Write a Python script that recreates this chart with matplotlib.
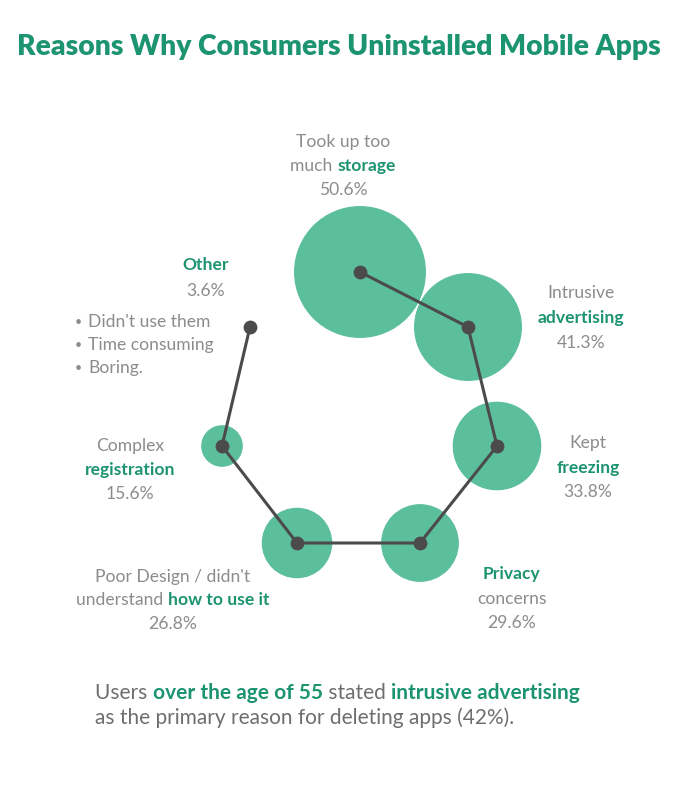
import matplotlib
matplotlib.use("Agg")
import matplotlib.pyplot as plt
from matplotlib.patches import Circle

# data
reasons = ["Took up too much storage", "Intrusive advertising", "Kept freezing",
           "Privacy concerns", "Poor Design / didn't understand how to use it",
           "Complex registration", "Other"]
shares = [50.6, 41.3, 33.8, 29.6, 26.8, 15.6, 3.6]
other_items = ["Didn't use them", "Time consuming", "Boring."]

# layout (pixel space of the 675x800 canvas)
centers = [(360, 272), (468, 327), (497, 446), (420, 543), (297, 543), (222, 446), (250, 327)]
px_per_pct = 1.29

GREEN = "#1d9470"
FILL = "#5cbf9c"
GRAY = "#8c8c8c"
DARKGRAY = "#6e6e6e"
LINE = "#4b4b4b"
FONT = "Lato"

fig = plt.figure(figsize=(6.75, 8), dpi=100)
ax = fig.add_axes([0, 0, 1, 1])
ax.set_xlim(0, 675)
ax.set_ylim(800, 0)
ax.axis("off")
renderer = fig.canvas.get_renderer()


def rich_line(x, y, parts, size=12.6, ha="center", gray=GRAY):
    """draw a line made of (text, bold) pieces, bold pieces in green"""
    texts = []
    for s, bold in parts:
        t = ax.text(0, y, s, fontsize=size, family=FONT, va="center", ha="left",
                    fontweight="bold" if bold else "normal",
                    color=GREEN if bold else gray)
        texts.append(t)
    widths = [t.get_window_extent(renderer).width for t in texts]
    total = sum(widths)
    start = x - total / 2 if ha == "center" else x
    for t, w in zip(texts, widths):
        t.set_x(start)
        start += w


# circles (last one, "Other", is only a dot)
for (cx, cy), v in zip(centers[:-1], shares[:-1]):
    ax.add_patch(Circle((cx, cy), v * px_per_pct, color=FILL, zorder=1))

xs = [c[0] for c in centers]
ys = [c[1] for c in centers]
ax.plot(xs, ys, color=LINE, lw=2.2, zorder=2)
ax.scatter(xs, ys, s=80, color=LINE, zorder=3)

ax.text(339, 47, "Reasons Why Consumers Uninstalled Mobile Apps", fontsize=20.3,
        family=FONT, fontweight="heavy", color=GREEN, ha="center", va="center")

# storage
rich_line(343, 142, [("Took up too", False)])
rich_line(343, 166, [("much ", False), ("storage", True)])
rich_line(343, 190, [(f"{shares[0]}%", False)])
# intrusive advertising
rich_line(581, 293, [("Intrusive", False)])
rich_line(581, 318, [("advertising", True)])
rich_line(581, 343, [(f"{shares[1]}%", False)])
# kept freezing
rich_line(588, 443, [("Kept", False)])
rich_line(588, 468, [("freezing", True)])
rich_line(588, 492, [(f"{shares[2]}%", False)])
# privacy
rich_line(512, 574, [("Privacy", True)])
rich_line(512, 599, [("concerns", False)])
rich_line(512, 623, [(f"{shares[3]}%", False)])
# poor design
rich_line(173, 577, [("Poor Design / didn't", False)])
rich_line(173, 600, [("understand ", False), ("how to use it", True)])
rich_line(173, 624, [(f"{shares[4]}%", False)])
# complex registration
rich_line(130, 446, [("Complex", False)])
rich_line(130, 470, [("registration", True)])
rich_line(130, 494, [(f"{shares[5]}%", False)])
# other
rich_line(206, 265, [("Other", True)])
rich_line(206, 291, [(f"{shares[6]}%", False)])
for i, item in enumerate(other_items):
    y = 322 + i * 23
    ax.text(78, y, "\u2022", fontsize=9, family=FONT, color=GRAY, ha="center", va="center")
    rich_line(88, y, [(item, False)], ha="left")

# footnote
rich_line(95, 693, [("Users ", False), ("over the age of 55", True), (" stated ", False),
                    ("intrusive advertising", True)], size=15.0, ha="left", gray=DARKGRAY)
rich_line(95, 718, [("as the primary reason for deleting apps (42%).", False)],
          size=15.0, ha="left", gray=DARKGRAY)

fig.savefig("out.png", dpi=100, facecolor="white")
